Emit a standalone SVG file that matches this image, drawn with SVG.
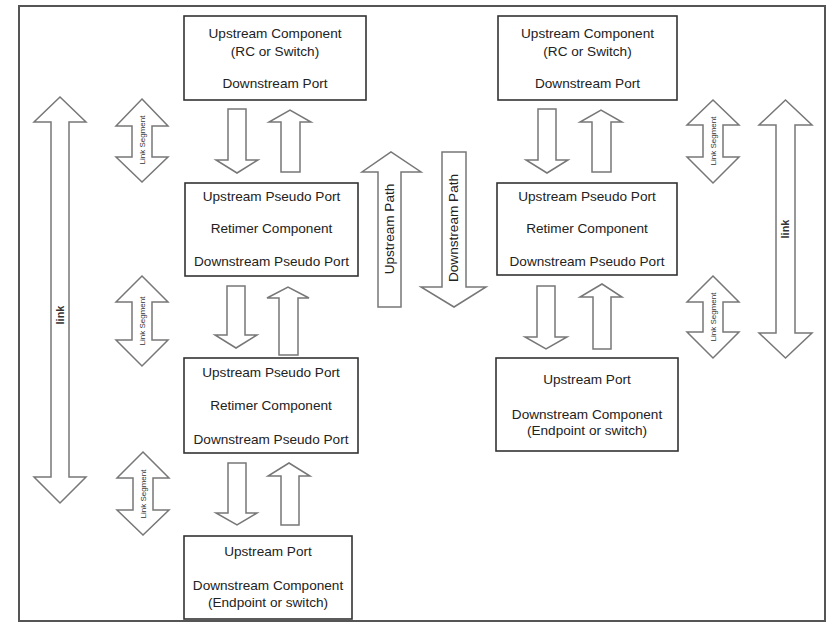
<svg xmlns="http://www.w3.org/2000/svg" width="827" height="624" viewBox="0 0 827 624">
<style>
.frame{fill:none;stroke:#555;stroke-width:2}
.box{fill:#fff;stroke:#333;stroke-width:1.6}
.arr{fill:#fff;stroke:#777;stroke-width:1.5;stroke-linejoin:miter}
.t{font-family:"Liberation Sans",Arial,sans-serif;font-size:13.6px;fill:#222;text-anchor:middle}
.s{font-family:"Liberation Sans",Arial,sans-serif;font-size:8px;fill:#333;text-anchor:middle}
.l{font-family:"Liberation Sans",Arial,sans-serif;font-size:11px;font-weight:bold;fill:#333;text-anchor:middle}
</style>
<rect class="frame" x="19" y="6" width="806" height="615"/>
<g id="connectors">
<!-- left column pair 1 -->
<polygon class="arr" points="228,109 246,109 246,160 258,160 237,173 216,160 228,160"/>
<polygon class="arr" points="281,172 300,172 300,122 311,122 290,110 269,122 281,122"/>
<!-- left pair 2 -->
<polygon class="arr" points="227,286 245,286 245,335 257,335 236,348 215,335 227,335"/>
<polygon class="arr" points="279,355 298,355 298,298 309,298 288,287 267,298 279,298"/>
<!-- left pair 3 -->
<polygon class="arr" points="228,463 246,463 246,513 257,513 237,525 216,513 228,513"/>
<polygon class="arr" points="281,525 299,525 299,476 310,476 289,463 268,476 281,476"/>
<!-- right pair 1 -->
<polygon class="arr" points="538,109 556,109 556,160 568,160 547,173 526,160 538,160"/>
<polygon class="arr" points="592,172 611,172 611,122 622,122 601,110 580,122 592,122"/>
<!-- right pair 2 -->
<polygon class="arr" points="537,286 555,286 555,337 567,337 546,349 525,337 537,337"/>
<polygon class="arr" points="593,349 611,349 611,297 622,297 602,284 580,297 593,297"/>
<!-- link segments left -->
<polygon class="arr" points="142,99 168,126 152,126 152,157 168,157 142,182 116,157 132,157 132,126 116,126"/>
<polygon class="arr" points="142,276 168,302 152,302 152,340 168,340 142,366 116,340 132,340 132,302 116,302"/>
<polygon class="arr" points="143,452 169,478 153,478 153,510 169,510 143,535 117,510 133,510 133,478 117,478"/>
<!-- link segments right -->
<polygon class="arr" points="713,100 739,125 723,125 723,157 739,157 713,183 687,157 703,157 703,125 687,125"/>
<polygon class="arr" points="713,276 739,302 723,302 723,332 739,332 713,358 687,332 703,332 703,302 687,302"/>
<!-- big link arrows -->
<polygon class="arr" points="60,97 86,122 69,122 69,477 86,477 60,503 34,477 51,477 51,122 34,122"/>
<polygon class="arr" points="785.5,100 812,125 795,125 795,333 812,333 785.5,358 759,333 776,333 776,125 759,125"/>
<!-- upstream / downstream path -->
<polygon class="arr" points="378,307 401,307 401,172 421,172 391,152 362,172 378,172"/>
<polygon class="arr" points="442,152 466,152 466,287 486,287 454,307 421,287 442,287"/>
<text class="t" transform="translate(394,229) rotate(-90)">Upstream Path</text>
<text class="t" transform="translate(458,228) rotate(-90)">Downstream Path</text>
<text class="s" transform="translate(145,140) rotate(-90)">Link Segment</text>
<text class="s" transform="translate(145,321) rotate(-90)">Link Segment</text>
<text class="s" transform="translate(146,494) rotate(-90)">Link Segment</text>
<text class="s" transform="translate(716,141) rotate(-90)">Link Segment</text>
<text class="s" transform="translate(716,317) rotate(-90)">Link Segment</text>
<text class="l" transform="translate(64,315) rotate(-90)">link</text>
<text class="l" transform="translate(789,229) rotate(-90)">link</text>
</g>
<g id="upstream-left">
<rect class="box" x="184" y="16" width="182" height="84"/>
<text class="t" x="275" y="38">Upstream Component</text>
<text class="t" x="275" y="56">(RC or Switch)</text>
<text class="t" x="275" y="88">Downstream Port</text>
</g>
<g id="retimer-left-1">
<rect class="box" x="185" y="183" width="173" height="93"/>
<text class="t" x="271.5" y="201">Upstream Pseudo Port</text>
<text class="t" x="271.5" y="233">Retimer Component</text>
<text class="t" x="271.5" y="266">Downstream Pseudo Port</text>
</g>
<g id="retimer-left-2">
<rect class="box" x="184" y="358" width="174" height="95"/>
<text class="t" x="271" y="377">Upstream Pseudo Port</text>
<text class="t" x="271" y="410">Retimer Component</text>
<text class="t" x="271" y="444">Downstream Pseudo Port</text>
</g>
<g id="downstream-left">
<rect class="box" x="184" y="536" width="168" height="83"/>
<text class="t" x="268" y="556">Upstream Port</text>
<text class="t" x="268" y="590">Downstream Component</text>
<text class="t" x="268" y="607">(Endpoint or switch)</text>
</g>
<g id="upstream-right">
<rect class="box" x="498" y="16" width="179" height="84"/>
<text class="t" x="587.5" y="38">Upstream Component</text>
<text class="t" x="587.5" y="56">(RC or Switch)</text>
<text class="t" x="587.5" y="88">Downstream Port</text>
</g>
<g id="retimer-right">
<rect class="box" x="497" y="183" width="180" height="92"/>
<text class="t" x="587" y="201">Upstream Pseudo Port</text>
<text class="t" x="587" y="233">Retimer Component</text>
<text class="t" x="587" y="266">Downstream Pseudo Port</text>
</g>
<g id="downstream-right">
<rect class="box" x="496" y="358" width="182" height="93"/>
<text class="t" x="587" y="384">Upstream Port</text>
<text class="t" x="587" y="419">Downstream Component</text>
<text class="t" x="587" y="435">(Endpoint or switch)</text>
</g>
</svg>
